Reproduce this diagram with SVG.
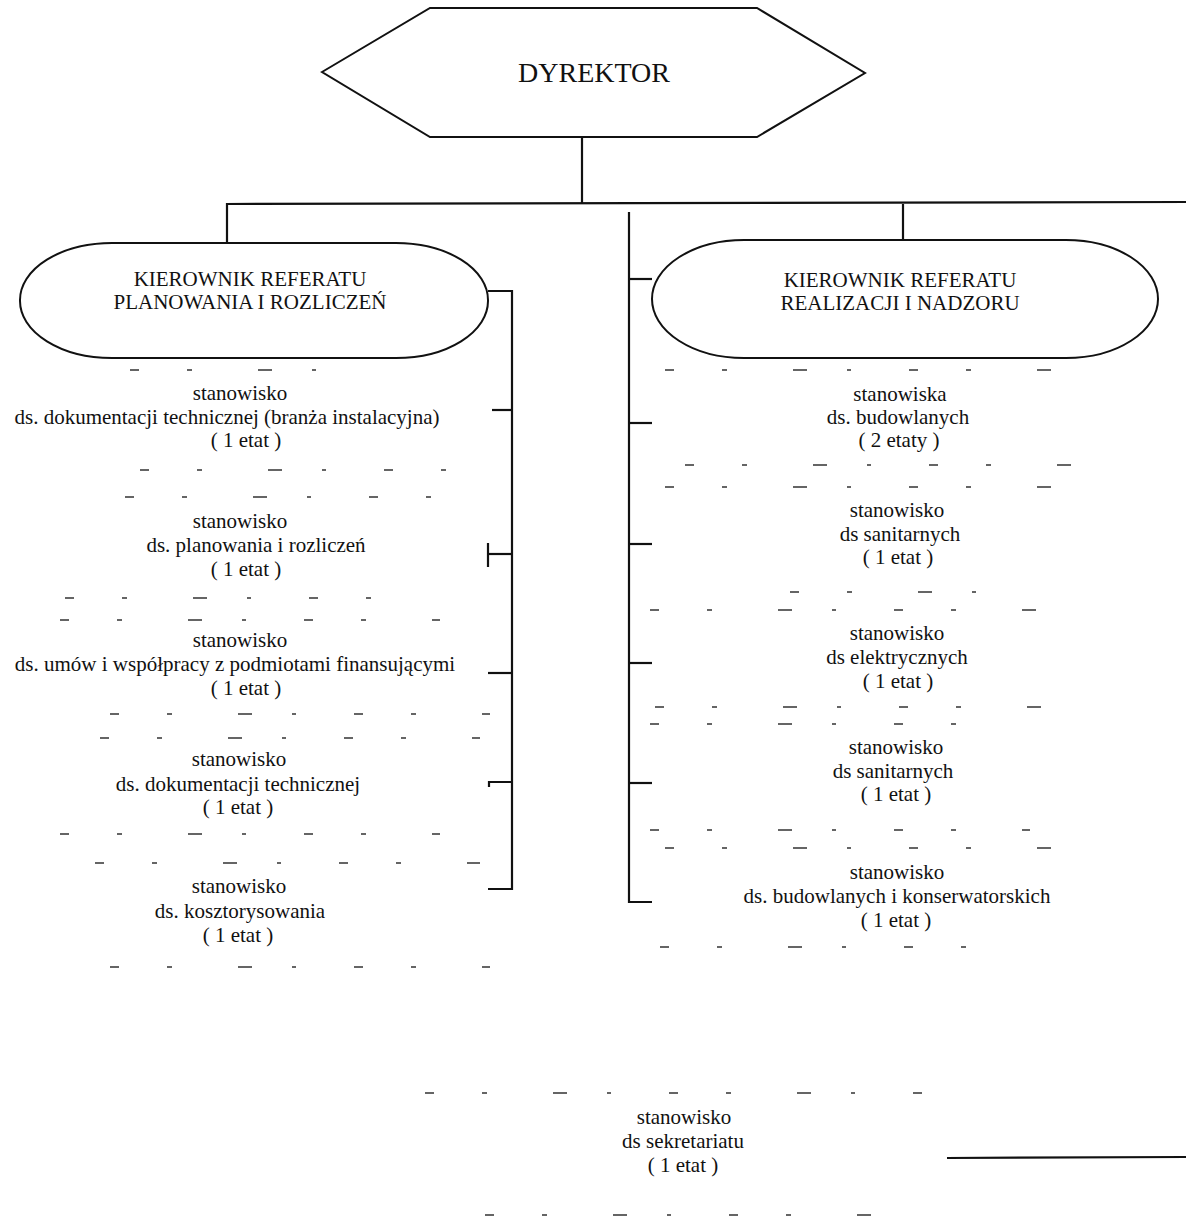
<svg xmlns="http://www.w3.org/2000/svg" width="1186" height="1218" viewBox="0 0 1186 1218">
<style>
text{font-family:"Liberation Serif","Times New Roman",serif;fill:#111;text-anchor:middle}
.t{font-size:21px}
.h{font-size:21px}
.d{font-size:28px}
.shape{fill:none;stroke:#111;stroke-width:2}
.c{fill:none;stroke:#111;stroke-width:2.2}
.g{fill:none;stroke:#333;stroke-width:1.3;stroke-dasharray:9 48 5 66 14 40 4 58}
</style>
<rect width="1186" height="1218" fill="#fff"/>
<g id="connectors">
<polyline class="c" points="582,137 582,204"/>
<polyline class="c" points="227,243 227,204 1186,202"/>
<polyline class="c" points="903,204 903,240"/>
<polyline class="c" points="488,291 512,291 512,889 488,889"/>
<polyline class="c" points="492,410 512,410"/>
<polyline class="c" points="488,554 512,554"/>
<polyline class="c" points="488,543 488,567"/>
<polyline class="c" points="488,673 512,673"/>
<polyline class="c" points="489,787 489,782 512,782"/>
<polyline class="c" points="629,212 629,902 652,902"/>
<polyline class="c" points="629,279 652,279"/>
<polyline class="c" points="629,423 652,423"/>
<polyline class="c" points="629,544 652,544"/>
<polyline class="c" points="629,663 652,663"/>
<polyline class="c" points="629,783 652,783"/>
<polyline class="c" points="947,1158 1186,1157"/>
</g>
<g id="dyrektor">
<polygon class="shape" points="322,72 430,8 757,8 865,73 757,137 430,137"/>
<text class="d" x="594" y="82">DYREKTOR</text>
</g>
<g id="kierownik-planowania">
<rect class="shape" x="20" y="243" width="468" height="115" rx="92" ry="57"/>
<text class="h" x="250" y="286">KIEROWNIK REFERATU</text>
<text class="h" x="250" y="309">PLANOWANIA I ROZLICZEŃ</text>
</g>
<g id="kierownik-realizacji">
<rect class="shape" x="652" y="240" width="506" height="118" rx="92" ry="59"/>
<text class="h" x="900" y="287">KIEROWNIK REFERATU</text>
<text class="h" x="900" y="310">REALIZACJI I NADZORU</text>
</g>
<g id="l1">
<line class="g" x1="130" y1="370" x2="370" y2="370"/>
<line class="g" x1="140" y1="470" x2="470" y2="470"/>
<text class="t" x="240" y="400">stanowisko</text>
<text class="t" x="227" y="424">ds. dokumentacji technicznej  (branża instalacyjna)</text>
<text class="t" x="246" y="447">( 1 etat )</text>
</g>
<g id="l2">
<line class="g" x1="125" y1="497" x2="470" y2="497"/>
<line class="g" x1="65" y1="598" x2="410" y2="598"/>
<text class="t" x="240" y="528">stanowisko</text>
<text class="t" x="256" y="552">ds. planowania i rozliczeń</text>
<text class="t" x="246" y="576">( 1 etat )</text>
</g>
<g id="l3">
<line class="g" x1="60" y1="620" x2="440" y2="620"/>
<line class="g" x1="110" y1="714" x2="490" y2="714"/>
<text class="t" x="240" y="647">stanowisko</text>
<text class="t" x="235" y="671">ds. umów i współpracy z podmiotami  finansującymi</text>
<text class="t" x="246" y="695">( 1 etat )</text>
</g>
<g id="l4">
<line class="g" x1="100" y1="738" x2="480" y2="738"/>
<line class="g" x1="60" y1="834" x2="440" y2="834"/>
<text class="t" x="239" y="766">stanowisko</text>
<text class="t" x="238" y="791">ds. dokumentacji  technicznej</text>
<text class="t" x="238" y="814">( 1 etat )</text>
</g>
<g id="l5">
<line class="g" x1="95" y1="863" x2="480" y2="863"/>
<line class="g" x1="110" y1="967" x2="490" y2="967"/>
<text class="t" x="239" y="893">stanowisko</text>
<text class="t" x="240" y="918">ds.  kosztorysowania</text>
<text class="t" x="238" y="942">( 1 etat )</text>
</g>
<g id="r1">
<line class="g" x1="665" y1="370" x2="1065" y2="370"/>
<line class="g" x1="685" y1="465" x2="1085" y2="465"/>
<text class="t" x="900" y="401">stanowiska</text>
<text class="t" x="898" y="424">ds. budowlanych</text>
<text class="t" x="899" y="447">( 2 etaty )</text>
</g>
<g id="r2">
<line class="g" x1="665" y1="487" x2="1085" y2="487"/>
<line class="g" x1="790" y1="592" x2="1005" y2="592"/>
<text class="t" x="897" y="517">stanowisko</text>
<text class="t" x="900" y="541">ds  sanitarnych</text>
<text class="t" x="898" y="564">( 1 etat )</text>
</g>
<g id="r3">
<line class="g" x1="650" y1="610" x2="1040" y2="610"/>
<line class="g" x1="655" y1="707" x2="1060" y2="707"/>
<text class="t" x="897" y="640">stanowisko</text>
<text class="t" x="897" y="664">ds  elektrycznych</text>
<text class="t" x="898" y="688">( 1 etat )</text>
</g>
<g id="r4">
<line class="g" x1="650" y1="724" x2="1015" y2="724"/>
<line class="g" x1="650" y1="830" x2="1030" y2="830"/>
<text class="t" x="896" y="754">stanowisko</text>
<text class="t" x="893" y="778">ds  sanitarnych</text>
<text class="t" x="896" y="801">( 1 etat )</text>
</g>
<g id="r5">
<line class="g" x1="665" y1="848" x2="1060" y2="848"/>
<line class="g" x1="660" y1="947" x2="980" y2="947"/>
<text class="t" x="897" y="879">stanowisko</text>
<text class="t" x="897" y="903">ds. budowlanych  i konserwatorskich</text>
<text class="t" x="896" y="927">( 1 etat )</text>
</g>
<g id="sekretariat">
<line class="g" x1="425" y1="1093" x2="925" y2="1093"/>
<line class="g" x1="485" y1="1215" x2="885" y2="1215"/>
<text class="t" x="684" y="1124">stanowisko</text>
<text class="t" x="683" y="1148">ds  sekretariatu</text>
<text class="t" x="683" y="1172">( 1 etat )</text>
</g>
</svg>
